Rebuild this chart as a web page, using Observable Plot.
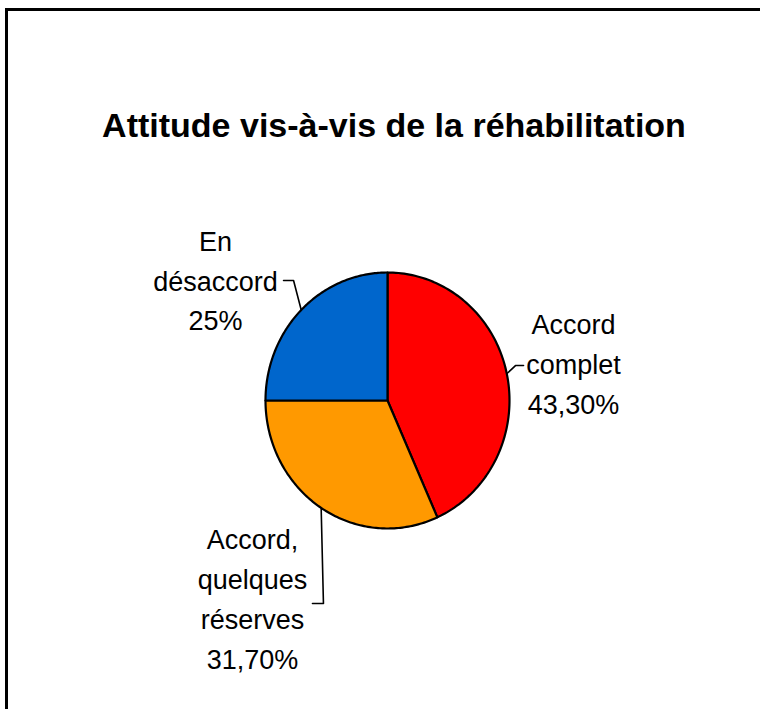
<!DOCTYPE html>
<html><head><meta charset="utf-8">
<script src="https://cdn.jsdelivr.net/npm/d3@7"></script>
<script src="https://cdn.jsdelivr.net/npm/@observablehq/plot@0.6"></script>
<style>
html,body{margin:0;padding:0;background:#fff;overflow:hidden;}
#wrap{position:relative;width:760px;height:709px;overflow:hidden;background:#fff;font-family:"Liberation Sans",Arial,sans-serif;}
#frame{position:absolute;left:5px;top:8px;width:900px;height:900px;border-left:3px solid #000;border-top:3px solid #000;box-sizing:border-box;}
#title{position:absolute;left:0;top:108px;width:788px;text-align:center;font-weight:bold;font-size:34px;line-height:34px;color:#000;white-space:nowrap;}
#chart{position:absolute;left:0;top:180px;}
</style></head><body>
<div id="wrap"><div id="frame"></div><div id="title">Attitude vis-à-vis de la réhabilitation</div><div id="chart"></div></div>
<script>
// ---- data ----
const categories = ["Accord complet", "Accord, quelques réserves", "En désaccord"];
const values = [43.3, 31.7, 25];
const pctLabels = ["43,30%", "31,70%", "25%"];
const labelLines = [["Accord", "complet"], ["Accord,", "quelques", "réserves"], ["En", "désaccord"]];
const colors = ["#FF0000", "#FF9900", "#0066CC"];

// ---- layout (pie data units: radius = 1) ----
const labelPos = [
  {x: 1.525, y: -0.105},   // Accord complet
  {x: -1.107, y: -2.094},  // Accord, quelques réserves
  {x: -1.410, y: 0.547}    // En désaccord
];
const leaderBends = [
  [{x: 1.049, y: 0.273}, {x: 1.115, y: 0.273}],
  [{x: -0.525, y: -1.586}, {x: -0.615, y: -1.586}],
  [{x: -0.770, y: 0.9375}, {x: -0.852, y: 0.9375}]
];

const rows = categories.map((c, i) => ({cat: c, value: values[i]}));
const arcs = d3.pie().sort(null).value(d => d.value)(rows);

const slicePts = [];
const N = 120;
arcs.forEach(a => {
  const cat = a.data.cat;
  slicePts.push({x: 0, y: 0, cat});
  for (let k = 0; k <= N; k++) {
    const t = a.startAngle + (a.endAngle - a.startAngle) * k / N;
    slicePts.push({x: Math.sin(t), y: Math.cos(t), cat});
  }
  slicePts.push({x: 0, y: 0, cat});
});

const leaderPts = [];
arcs.forEach((a, i) => {
  const m = (a.startAngle + a.endAngle) / 2;
  const cat = a.data.cat;
  leaderPts.push({x: Math.sin(m), y: Math.cos(m), cat});
  leaderBends[i].forEach(p => leaderPts.push({x: p.x, y: p.y, cat}));
});

const labels = arcs.map((a, i) => ({
  cat: a.data.cat,
  x: labelPos[i].x,
  y: labelPos[i].y,
  text: labelLines[i].join("\n") + "\n" + pctLabels[i]
}));

const font = '"Liberation Sans", Arial, sans-serif';
const chart = Plot.plot({
  width: 760,
  height: 529,
  margin: 0,
  style: {background: "transparent", overflow: "visible"},
  x: {domain: [-1, 1], range: [265, 509], axis: null},
  y: {domain: [-1, 1], range: [348, 92], axis: null},
  color: {domain: categories, range: colors},
  marks: [
    Plot.line(slicePts, {x: "x", y: "y", z: "cat", fill: "cat", stroke: "#000", strokeWidth: 2.2, strokeLinejoin: "round", curve: "linear"}),
    Plot.line(leaderPts, {x: "x", y: "y", z: "cat", stroke: "#000", strokeWidth: 1.6, curve: "linear"}),
    Plot.text(labels, {x: "x", y: "y", text: "text", lineAnchor: "bottom", lineHeight: 1.48, fontSize: 27, fontFamily: font, fill: "#000", textAnchor: "middle"})
  ]
});
document.getElementById("chart").appendChild(chart);
</script>
</body></html>
